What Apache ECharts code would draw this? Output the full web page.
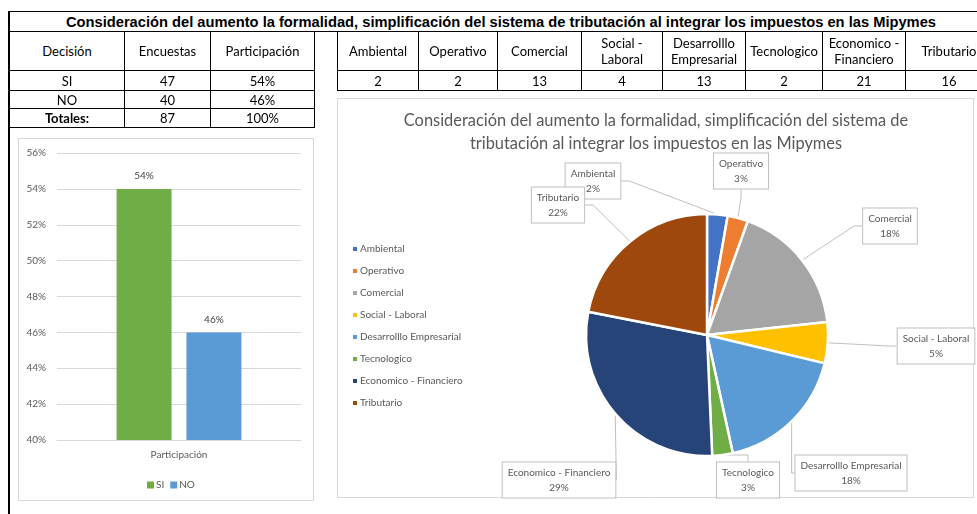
<!DOCTYPE html>
<html>
<head>
<meta charset="utf-8">
<script src="https://cdn.jsdelivr.net/npm/echarts@6/dist/echarts.min.js"></script>
<style>
html,body{margin:0;padding:0;background:#fff;}
#wrap{position:relative;width:977px;height:514px;overflow:hidden;background:#fff;}
#chart{position:absolute;left:0;top:0;width:977px;height:514px;}
.cell{position:absolute;box-sizing:border-box;border:1px solid #000;display:flex;align-items:center;justify-content:center;text-align:center;font-family:Lato,"Open Sans",sans-serif;font-size:13px;color:#000;line-height:16px;padding:0 2px;background:#fff;}
</style>
</head>
<body>
<div id="wrap"><div id="chart"></div></div>
<script>
// ---------- data ----------
const mainTitle = 'Consideración del aumento la formalidad, simplificación del sistema de tributación al integrar los impuestos en las Mipymes';
const decisionHeaders = ['Decisión', 'Encuestas', 'Participación'];
const decisions = ['SI', 'NO'];
const encuestas = [47, 40];
const participacion = [54, 46];
const totalLabel = 'Totales:';
const totalEncuestas = 87;
const totalParticipacion = 100;
const barCategory = ['Participación'];
const yMin = 40, yMax = 56, yStep = 2;
const categories = ['Ambiental', 'Operativo', 'Comercial', 'Social - Laboral', 'Desarrolllo Empresarial', 'Tecnologico', 'Economico - Financiero', 'Tributario'];
const categoryValues = [2, 2, 13, 4, 13, 2, 21, 16];
const pieLabelPct = [2, 3, 18, 5, 18, 3, 29, 22];
const pieTitle = 'Consideración del aumento la formalidad, simplificación del sistema de\ntributación al integrar los impuestos en las Mipymes';

// ---------- tables (HTML) ----------
const wrap = document.getElementById('wrap');
function cell(x0, x1, y0, y1, text, extra) {
  const d = document.createElement('div');
  d.className = 'cell';
  d.style.left = x0 + 'px'; d.style.top = y0 + 'px';
  d.style.width = (x1 - x0 + 1) + 'px'; d.style.height = (y1 - y0 + 1) + 'px';
  d.textContent = text;
  if (extra) Object.assign(d.style, extra);
  wrap.appendChild(d);
}
// title row
cell(9, 992, 11, 31, mainTitle, {fontFamily: '"Liberation Sans",Arial,sans-serif', fontWeight: 'bold', fontSize: '14.7px'});
// left table
const lc = [9, 124, 210, 314];
const lr = [31, 70, 90, 108, 127];
decisionHeaders.forEach((h, i) => cell(lc[i], lc[i + 1], lr[0], lr[1], h));
decisions.forEach((dname, r) => {
  const row = [dname, String(encuestas[r]), participacion[r] + '%'];
  row.forEach((t, i) => cell(lc[i], lc[i + 1], lr[r + 1], lr[r + 2], t));
});
[totalLabel, String(totalEncuestas), totalParticipacion + '%'].forEach((t, i) =>
  cell(lc[i], lc[i + 1], lr[3], lr[4], t, i === 0 ? {fontWeight: 'bold'} : null));
// right table
const rc = [337, 418, 497, 581, 662, 745, 822, 905, 992];
const rr = [31, 70, 90];
categories.forEach((c, i) => {
  cell(rc[i], rc[i + 1], rr[0], rr[1], c);
  cell(rc[i], rc[i + 1], rr[1], rr[2], String(categoryValues[i]));
});
// left page border line
const bl = document.createElement('div');
Object.assign(bl.style, {position: 'absolute', left: '8px', top: '11px', width: '2px', height: '503px', background: '#000'});
wrap.appendChild(bl);

// ---------- charts ----------
const pieColors = ['#4472C4', '#ED7D31', '#A5A5A5', '#FFC000', '#5B9BD5', '#70AD47', '#264478', '#9E480E'];
const labelPos = [[593, 181], [741, 171], [890, 226], [936, 346], [851, 473], [748, 480], [559, 480], [558, 205]];
const txt = '#595959';
const chart = echarts.init(document.getElementById('chart'), null, {renderer: 'canvas'});
const option = {
  animation: false,
  textStyle: {fontFamily: 'Lato, "Open Sans", sans-serif'},
  graphic: [
    {type: 'rect', shape: {x: 18.5, y: 138.5, width: 295, height: 362}, style: {fill: 'none', stroke: '#d9d9d9', lineWidth: 1}, z: -1},
    {type: 'rect', shape: {x: 337.5, y: 98.5, width: 636, height: 399}, style: {fill: 'none', stroke: '#d9d9d9', lineWidth: 1}, z: -1}
  ],
  title: {
    text: pieTitle, left: 651, top: 104, textAlign: 'center',
    textStyle: {fontFamily: 'Lato, sans-serif', fontWeight: 'normal', fontSize: 16.4, color: txt, lineHeight: 23}
  },
  legend: [
    {data: decisions, left: 142, top: 475, itemWidth: 7, itemHeight: 7, itemGap: 6, icon: 'rect',
     textStyle: {fontSize: 10, color: txt, padding: [0, 0, 0, -3]}},
    {data: categories, orient: 'vertical', left: 346, top: 238, itemWidth: 6, itemHeight: 6, itemGap: 10, icon: 'rect',
     textStyle: {fontSize: 10, color: txt, lineHeight: 12, padding: [0, 0, 0, -3]}}
  ],
  grid: {left: 57, top: 153, width: 244, height: 287},
  xAxis: {
    type: 'category', data: barCategory,
    axisLine: {lineStyle: {color: '#d9d9d9'}}, axisTick: {show: false},
    axisLabel: {fontSize: 10, color: txt, margin: 10}
  },
  yAxis: {
    type: 'value', min: yMin, max: yMax, interval: yStep,
    axisLine: {show: false}, axisTick: {show: false},
    axisLabel: {fontSize: 10, color: txt, margin: 11, formatter: '{value}%'},
    splitLine: {lineStyle: {color: '#d9d9d9'}}
  },
  series: [
    {name: decisions[0], type: 'bar', data: [participacion[0]], barWidth: 55, barGap: '27%', itemStyle: {color: '#70AD47'},
     label: {show: true, position: 'top', distance: 8, fontSize: 10, color: '#404040', formatter: '{c}%'}},
    {name: decisions[1], type: 'bar', data: [participacion[1]], barWidth: 55, barGap: '27%', itemStyle: {color: '#5B9BD5'},
     label: {show: true, position: 'top', distance: 8, fontSize: 10, color: '#404040', formatter: '{c}%'}},
    {
      name: 'pie', type: 'pie', center: [707, 335], radius: 121, startAngle: 90, clockwise: true,
      data: categories.map((c, i) => ({name: c, value: categoryValues[i], itemStyle: {color: pieColors[i]}})),
      itemStyle: {borderColor: '#fff', borderWidth: 2.5},
      emphasis: {disabled: true},
      label: {
        show: true, position: 'outside', fontSize: 10, color: txt, lineHeight: 15,
        backgroundColor: '#fff', borderColor: '#bfbfbf', borderWidth: 1, padding: [3, 5, 2, 5], align: 'center',
        formatter: p => p.name + '\n' + pieLabelPct[p.dataIndex] + '%'
      },
      labelLine: {show: true, length: 10, length2: 8, lineStyle: {color: '#bfbfbf', width: 1}},
      labelLayout: p => ({x: labelPos[p.dataIndex][0], y: labelPos[p.dataIndex][1], align: 'center', verticalAlign: 'middle'})
    }
  ]
};
chart.setOption(option);
</script>
</body>
</html>
